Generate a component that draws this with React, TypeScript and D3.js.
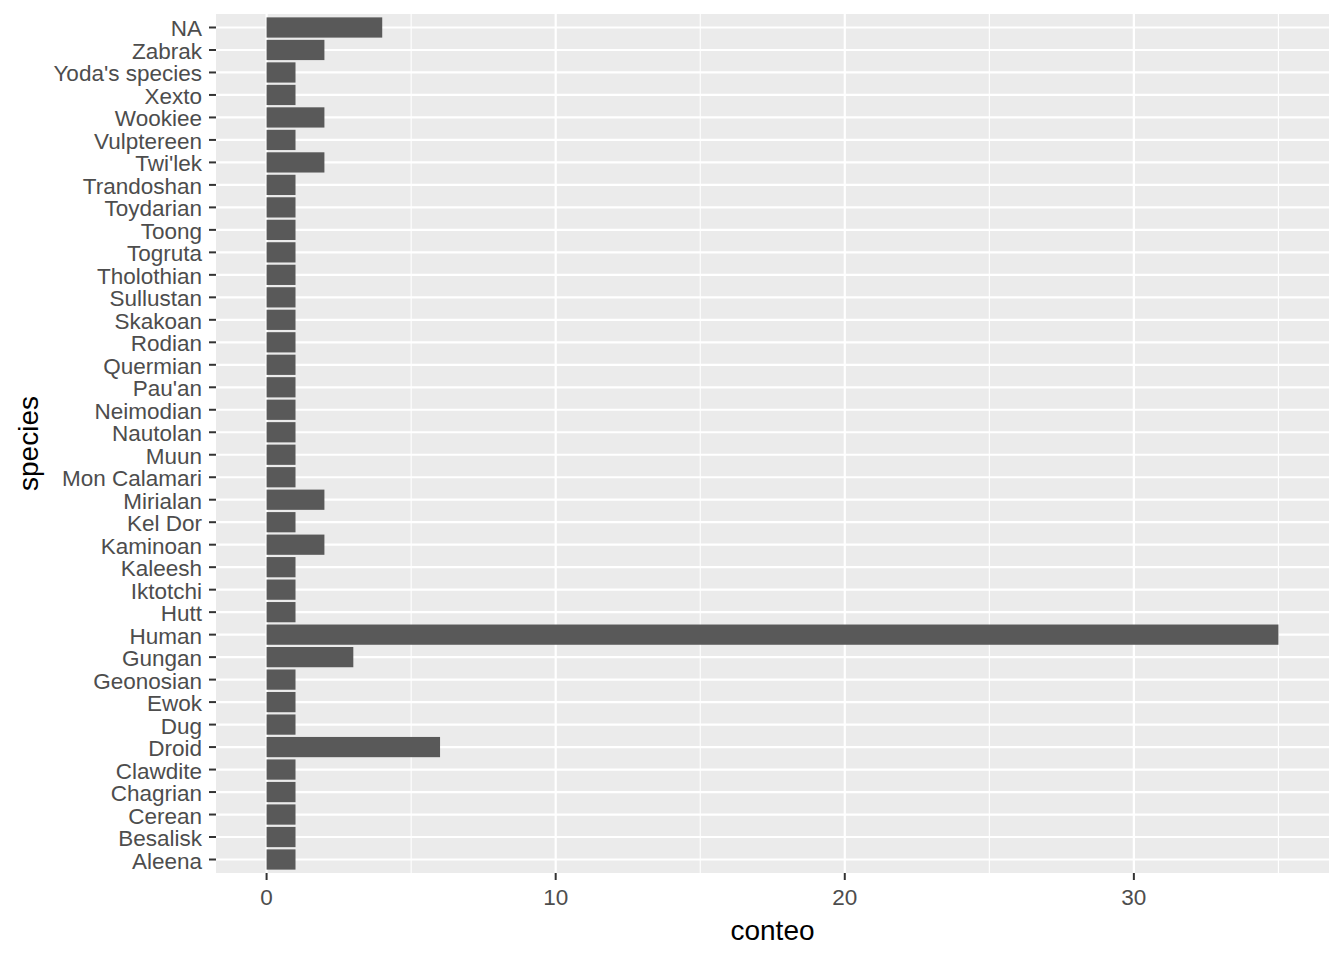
import * as d3 from "d3"

const species = [
  "Aleena", "Besalisk", "Cerean", "Chagrian", "Clawdite", "Droid", "Dug", "Ewok",
  "Geonosian", "Gungan", "Human", "Hutt", "Iktotchi", "Kaleesh", "Kaminoan", "Kel Dor",
  "Mirialan", "Mon Calamari", "Muun", "Nautolan", "Neimodian", "Pau'an", "Quermian",
  "Rodian", "Skakoan", "Sullustan", "Tholothian", "Togruta", "Toong", "Toydarian",
  "Trandoshan", "Twi'lek", "Vulptereen", "Wookiee", "Xexto", "Yoda's species", "Zabrak", "NA",
]
const conteo = [
  1, 1, 1, 1, 1, 6, 1, 1,
  1, 3, 35, 1, 1, 1, 2, 1,
  2, 1, 1, 1, 1, 1, 1,
  1, 1, 1, 1, 1, 1, 1,
  1, 2, 1, 2, 1, 1, 2, 4,
]
const xTicks = [0, 10, 20, 30]
const xMinor = [5, 15, 25, 35]

const W = 1344
const H = 960
const panel = { left: 216, right: 1329, top: 14, bottom: 873 }

export default function App() {
  const maxV = d3.max(conteo) || 0
  const pad = maxV * 0.05
  const x = d3.scaleLinear().domain([-pad, maxV + pad]).range([panel.left, panel.right])

  // discrete scale with 0.6 unit expansion each side (ggplot default)
  const n = species.length
  const y = d3
    .scaleLinear()
    .domain([1 - 0.6, n + 0.6])
    .range([panel.bottom, panel.top])
  const step = Math.abs(y(2) - y(1))
  const barH = step * 0.9

  const tickCol = "#333333"
  const labCol = "#4D4D4D"
  const font = "'Liberation Sans', Arial, sans-serif"

  return (
    <svg width={W} height={H} style={{ position: "absolute", left: 0, top: 0, background: "white" }} fontFamily={font}>
      <rect x={panel.left} y={panel.top} width={panel.right - panel.left} height={panel.bottom - panel.top} fill="#EBEBEB" />
      {xMinor.map(t => (
        <line key={"mn" + t} x1={x(t)} x2={x(t)} y1={panel.top} y2={panel.bottom} stroke="white" strokeWidth={1.1} />
      ))}
      {xTicks.map(t => (
        <line key={"mj" + t} x1={x(t)} x2={x(t)} y1={panel.top} y2={panel.bottom} stroke="white" strokeWidth={2.2} />
      ))}
      {species.map((s, i) => (
        <line key={"hg" + s} x1={panel.left} x2={panel.right} y1={y(i + 1)} y2={y(i + 1)} stroke="white" strokeWidth={2.2} />
      ))}
      {species.map((s, i) => (
        <rect
          key={"b" + s}
          x={x(0)}
          y={y(i + 1) - barH / 2}
          width={x(conteo[i]) - x(0)}
          height={barH}
          fill="#595959"
        />
      ))}
      {/* y axis */}
      {species.map((s, i) => (
        <g key={"yt" + s}>
          <line x1={panel.left - 7} x2={panel.left} y1={y(i + 1)} y2={y(i + 1)} stroke={tickCol} strokeWidth={2} />
          <text x={panel.left - 14} y={y(i + 1)} dy="0.4em" textAnchor="end" fontSize={22.5} fill={labCol}>
            {s}
          </text>
        </g>
      ))}
      {/* x axis */}
      {xTicks.map(t => (
        <g key={"xt" + t}>
          <line x1={x(t)} x2={x(t)} y1={panel.bottom} y2={panel.bottom + 7} stroke={tickCol} strokeWidth={2} />
          <text x={x(t)} y={panel.bottom + 32} textAnchor="middle" fontSize={22.5} fill={labCol}>
            {t}
          </text>
        </g>
      ))}
      <text x={(panel.left + panel.right) / 2} y={940} textAnchor="middle" fontSize={28} fill="black">
        conteo
      </text>
      <text
        transform={`translate(38,${(panel.top + panel.bottom) / 2}) rotate(-90)`}
        textAnchor="middle"
        fontSize={28}
        fill="black"
      >
        species
      </text>
    </svg>
  )
}
